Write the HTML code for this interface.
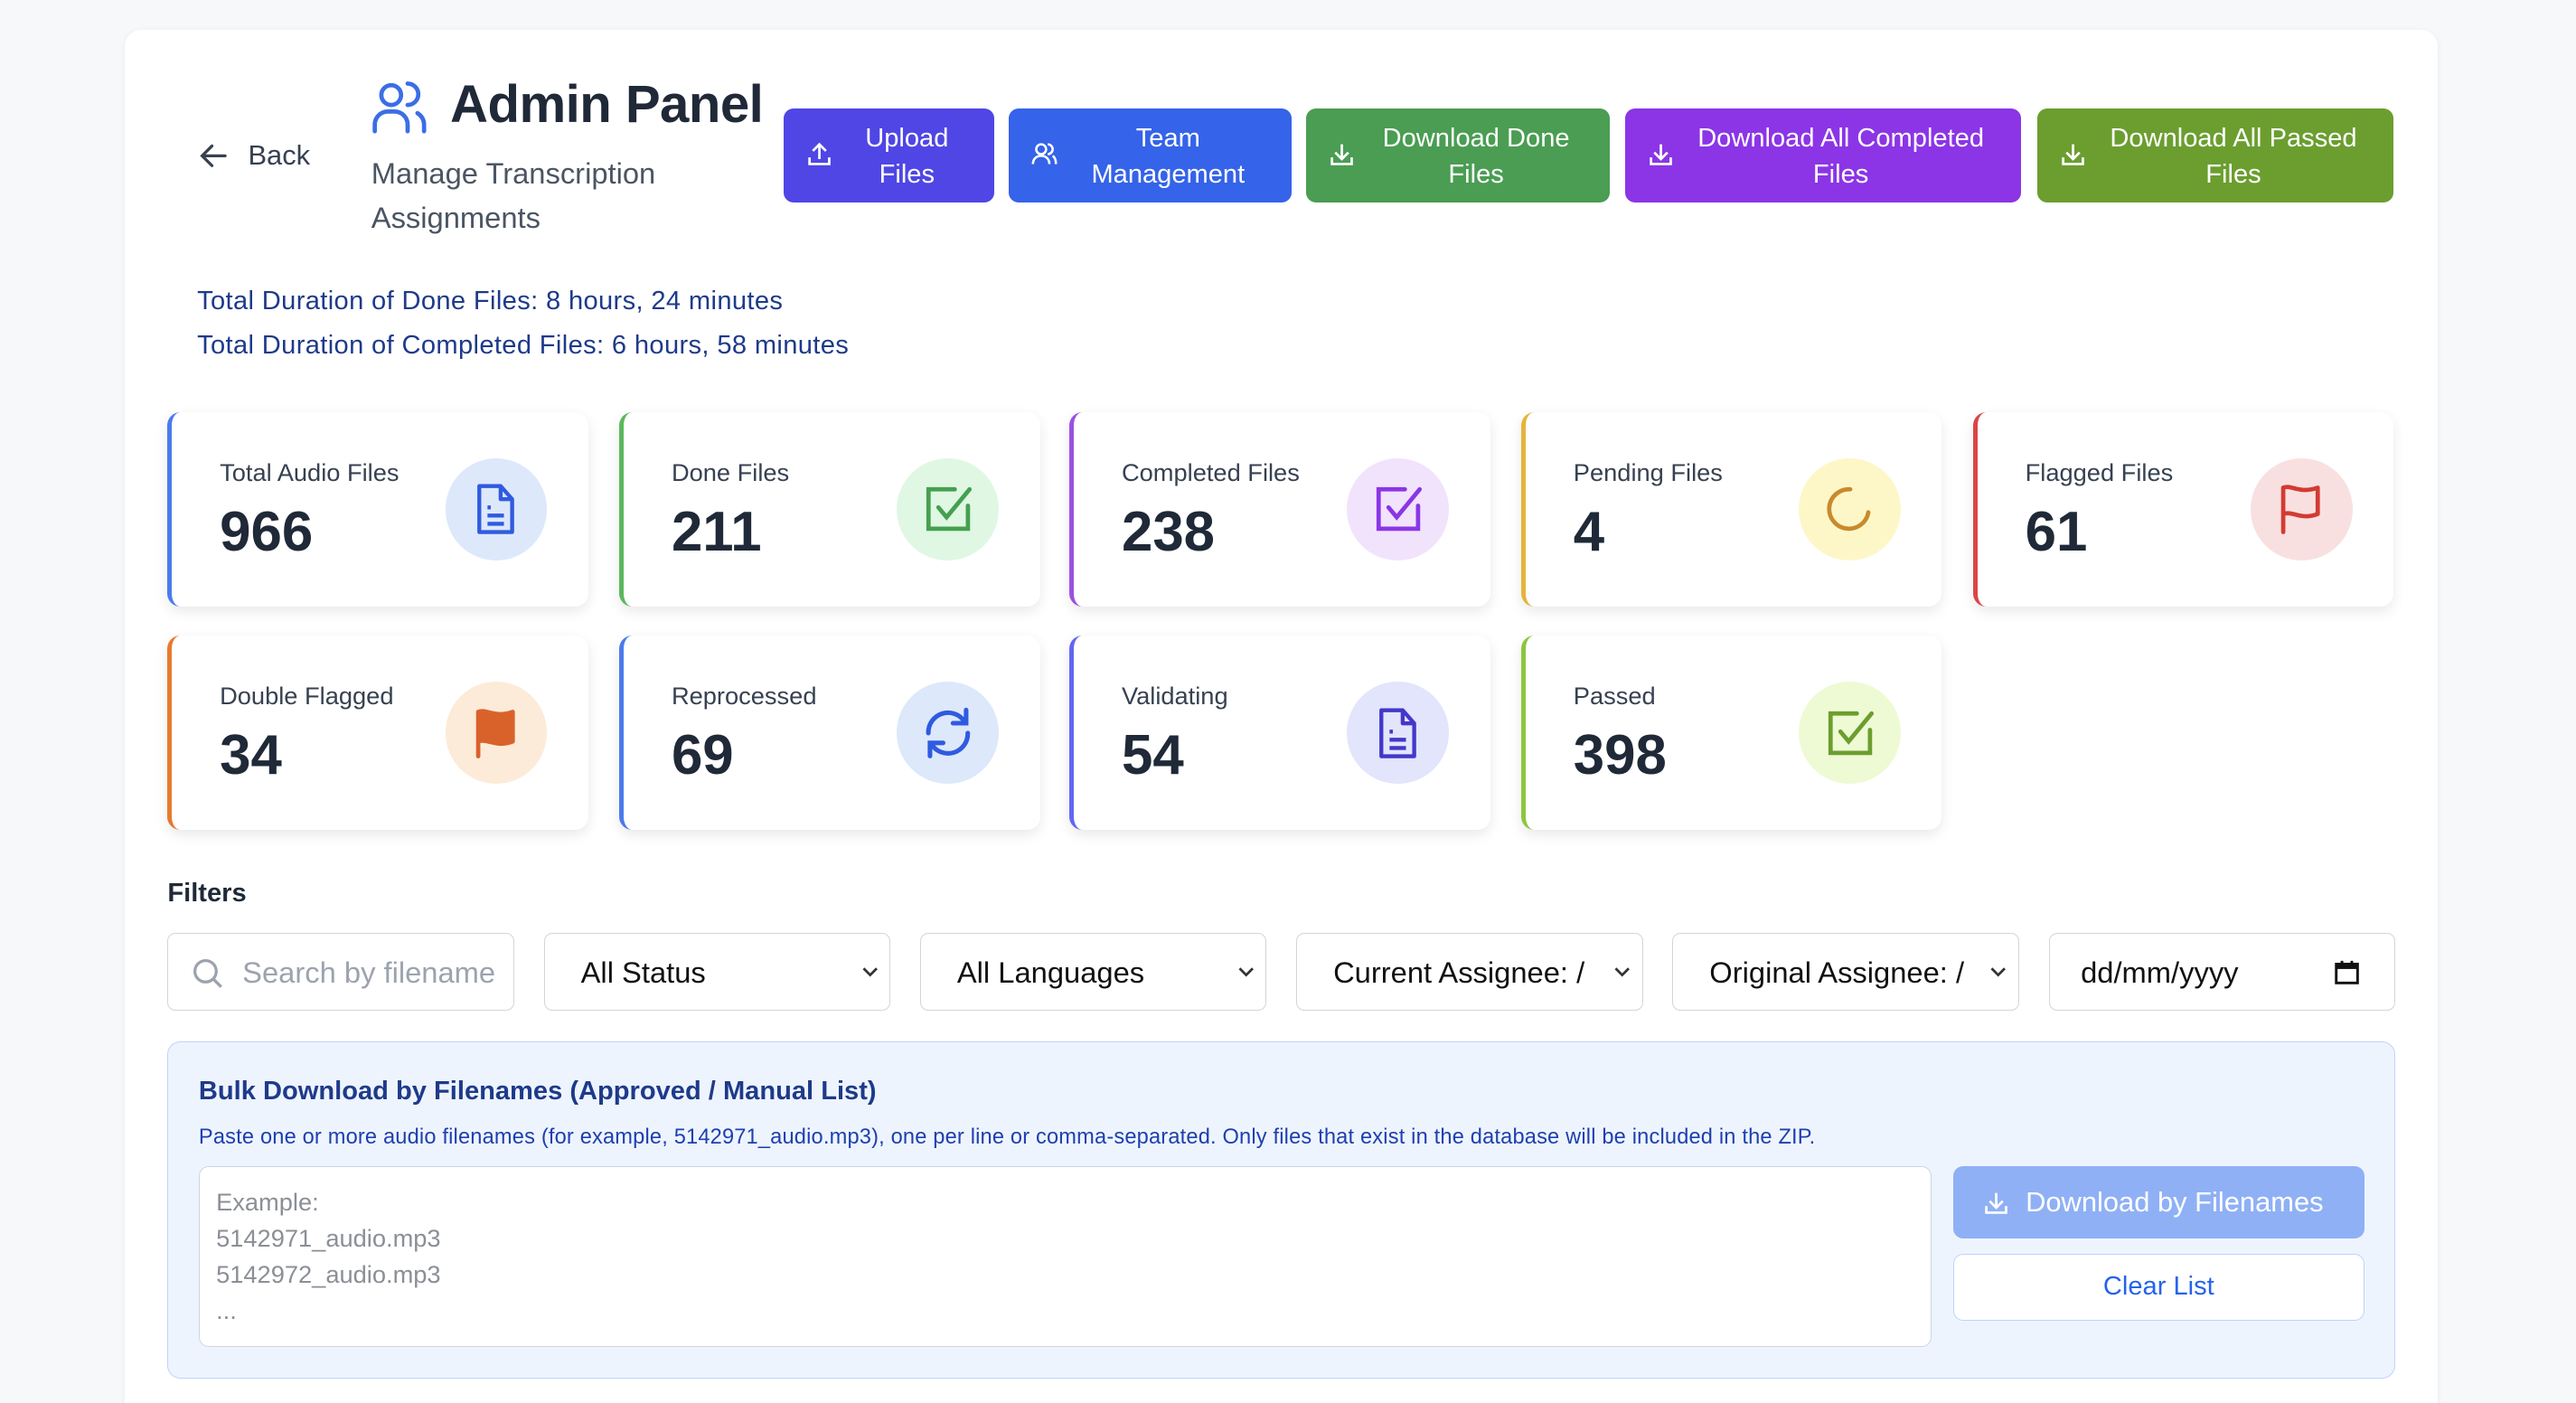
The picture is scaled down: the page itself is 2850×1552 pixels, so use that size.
<!DOCTYPE html>
<html><head><meta charset="utf-8">
<style>
*{box-sizing:border-box;margin:0;padding:0}
html,body{width:2850px;height:1552px;overflow:hidden;background:#f7f8fa}
#w{zoom:1.81760;width:1568px;height:854px;position:relative;font-family:"Liberation Sans",sans-serif;color:#1f2937}
.a{position:absolute}
.panel{left:76px;top:18px;width:1408px;height:860px;background:#fff;border-radius:10px;box-shadow:0 1px 4px rgba(0,0,0,.06)}
.btn{top:66px;height:57px;border-radius:6px;color:#fff;font-size:16px;line-height:22px;text-align:center;display:flex;align-items:center;justify-content:center}
.btn span{position:relative;top:1px}
.btn svg{position:absolute;left:14px;top:20px}
.card{width:256px;height:118px;background:#fff;border-radius:8px;box-shadow:0 3px 8px rgba(0,0,0,.09);border-left:3px solid}
.card .l{position:absolute;left:29px;top:28px;font-size:15px;color:#374151}
.card .n{position:absolute;left:29px;top:53px;font-size:34px;font-weight:bold;color:#1f2937}
.card .c{position:absolute;right:25px;top:28px;width:62px;height:62px;border-radius:50%;display:flex;align-items:center;justify-content:center}
.inp{top:568px;width:211px;height:47px;border:1px solid #d1d5db;border-radius:5px;font-size:18px;color:#111;padding-left:22px;line-height:47px;background:#fff}
.inp .ch{position:absolute;right:5px;top:17px;width:14px;height:12px;background:#fff}
</style></head><body><div id="w">
<div class="a panel"></div>
<svg class="a" style="left:121px;top:86px" width="18" height="18" viewBox="0 0 18 18"><path d="M16 9H3M8 3L2 9l6 6" stroke="#374151" stroke-width="1.8" fill="none" stroke-linecap="round"/></svg>
<div class="a" style="left:151px;top:85px;font-size:17px;color:#374151">Back</div>
<svg class="a" style="left:226px;top:48px" width="34" height="34" viewBox="0 0 34 34" fill="none" stroke="#3b6ee6" stroke-width="2.6" stroke-linecap="round"><circle cx="12" cy="10" r="6"/><path d="M2 32v-4a8 8 0 0 1 8-8h4a8 8 0 0 1 8 8v4"/><path d="M22 3a6 6 0 0 1 0 13M28 21a8 8 0 0 1 4 7v4"/></svg>
<div class="a" style="left:274px;top:45px;font-size:32px;font-weight:bold;color:#1f2937;letter-spacing:-0.3px">Admin Panel</div>
<div class="a" style="left:226px;top:92px;font-size:18px;line-height:27px;color:#4b5563">Manage Transcription<br>Assignments</div>

<div class="a btn" style="left:477px;width:128px;background:#4f46e5"><svg width="16" height="16" viewBox="0 0 16 16" fill="none" stroke="#fff" stroke-width="1.5"><path d="M2 10v4h12v-4M8 11V2M4 6l4-4 4 4"/></svg><span style="padding-left:22px">Upload<br>Files</span></div>
<div class="a btn" style="left:614px;width:172px;background:#3563e9"><svg width="16" height="16" viewBox="0 0 16 16" fill="none" stroke="#fff" stroke-width="1.4"><circle cx="6" cy="5" r="3"/><path d="M1 14c0-3 2-5 5-5s5 2 5 5M10 2a3 3 0 0 1 0 6M13 9c1.5 1 2 3 2 5"/></svg><span style="padding-left:22px">Team<br>Management</span></div>
<div class="a btn" style="left:795px;width:185px;background:#4a9d52"><svg width="16" height="16" viewBox="0 0 16 16" fill="none" stroke="#fff" stroke-width="1.5"><path d="M2 10v4h12v-4M8 2v9M4 7l4 4 4-4"/></svg><span style="padding-left:22px">Download Done<br>Files</span></div>
<div class="a btn" style="left:989px;width:241px;background:#8b35e6"><svg width="16" height="16" viewBox="0 0 16 16" fill="none" stroke="#fff" stroke-width="1.5"><path d="M2 10v4h12v-4M8 2v9M4 7l4 4 4-4"/></svg><span style="padding-left:22px">Download All Completed<br>Files</span></div>
<div class="a btn" style="left:1240px;width:217px;background:#6b9e2f"><svg width="16" height="16" viewBox="0 0 16 16" fill="none" stroke="#fff" stroke-width="1.5"><path d="M2 10v4h12v-4M8 2v9M4 7l4 4 4-4"/></svg><span style="padding-left:22px">Download All Passed<br>Files</span></div>

<div class="a" style="left:120px;top:170px;font-size:16px;line-height:27px;color:#1e3a8a;letter-spacing:0.2px">Total Duration of Done Files: 8 hours, 24 minutes<br>Total Duration of Completed Files: 6 hours, 58 minutes</div>

<div class="a card" style="left:102px;top:251px;border-color:#4b7bec"><div class="l">Total Audio Files</div><div class="n">966</div><div class="c" style="background:#dde8fb"><svg width="28" height="32" viewBox="0 0 28 32" fill="none" stroke="#2f5be0" stroke-width="2.4" stroke-linejoin="round"><path d="M4 2h13l7 8v20H4z"/><path d="M17 2v8h7M9 15h2M9 20h10M9 25h10"/></svg></div></div>
<div class="a card" style="left:377px;top:251px;border-color:#5cb85c"><div class="l">Done Files</div><div class="n">211</div><div class="c" style="background:#e0f7e4"><svg width="32" height="32" viewBox="0 0 32 32" fill="none" stroke="#44a04f" stroke-width="2.6" stroke-linecap="round"><path d="M20 4H4v24h24V14"/><path d="M10 15l5 6L29 4"/></svg></div></div>
<div class="a card" style="left:651px;top:251px;border-color:#9b51e0"><div class="l">Completed Files</div><div class="n">238</div><div class="c" style="background:#f1e3fc"><svg width="32" height="32" viewBox="0 0 32 32" fill="none" stroke="#8b35e6" stroke-width="2.6" stroke-linecap="round"><path d="M20 4H4v24h24V14"/><path d="M10 15l5 6L29 4"/></svg></div></div>
<div class="a card" style="left:926px;top:251px;border-color:#e6b43c"><div class="l">Pending Files</div><div class="n">4</div><div class="c" style="background:#fdf7c8"><svg width="32" height="32" viewBox="0 0 32 32" fill="none" stroke="#c98a2c" stroke-width="2.6" stroke-linecap="round"><path d="M27 18A12 12 0 1 1 16 4"/></svg></div></div>
<div class="a card" style="left:1201px;top:251px;border-color:#dc4444"><div class="l">Flagged Files</div><div class="n">61</div><div class="c" style="background:#f9e0e0"><svg width="32" height="32" viewBox="0 0 32 32" fill="none" stroke="#d23b32" stroke-width="2.6" stroke-linejoin="round" stroke-linecap="round"><path d="M5 30V3c5-2 10 4 21 0v16c-10 4-15-2-21 0"/></svg></div></div>

<div class="a card" style="left:102px;top:387px;border-color:#e8792f"><div class="l">Double Flagged</div><div class="n">34</div><div class="c" style="background:#fcebd8"><svg width="32" height="32" viewBox="0 0 32 32"><path d="M5 30V3c5-2 10 4 21 0v18c-10 4-15-2-21 0" fill="#d9622b" stroke="#d9622b" stroke-width="2.6" stroke-linejoin="round" stroke-linecap="round"/></svg></div></div>
<div class="a card" style="left:377px;top:387px;border-color:#4b7bec"><div class="l">Reprocessed</div><div class="n">69</div><div class="c" style="background:#dde8fb"><svg width="34" height="34" viewBox="0 0 34 34" fill="none" stroke="#2f5be0" stroke-width="2.8" stroke-linecap="round"><path d="M5 17A12 12 0 0 1 27 10M29 17A12 12 0 0 1 7 24"/><path d="M28 3v8h-8M6 31v-8h8"/></svg></div></div>
<div class="a card" style="left:651px;top:387px;border-color:#6366f1"><div class="l">Validating</div><div class="n">54</div><div class="c" style="background:#e2e5fb"><svg width="28" height="32" viewBox="0 0 28 32" fill="none" stroke="#4338ca" stroke-width="2.4" stroke-linejoin="round"><path d="M4 2h13l7 8v20H4z"/><path d="M17 2v8h7M9 15h2M9 20h10M9 25h10"/></svg></div></div>
<div class="a card" style="left:926px;top:387px;border-color:#8cc63f"><div class="l">Passed</div><div class="n">398</div><div class="c" style="background:#eefad4"><svg width="32" height="32" viewBox="0 0 32 32" fill="none" stroke="#6b9e2f" stroke-width="2.6" stroke-linecap="round"><path d="M20 4H4v24h24V14"/><path d="M10 15l5 6L29 4"/></svg></div></div>

<div class="a" style="left:102px;top:535px;font-size:16px;font-weight:bold;color:#1f2937">Filters</div>
<div class="a inp" style="left:102px;padding-left:45px;color:#9ca3af;overflow:hidden;white-space:nowrap"><svg class="a" style="left:14px;top:14px" width="20" height="20" viewBox="0 0 20 20" fill="none" stroke="#9ca3af" stroke-width="1.8"><circle cx="8.5" cy="8.5" r="6.5"/><path d="M13.5 13.5L18 18"/></svg>Search by filename</div>
<div class="a inp" style="left:331px">All Status<svg class="ch" viewBox="0 0 14 12"><path d="M3 4l4 4 4-4" fill="none" stroke="#333" stroke-width="1.5"/></svg></div>
<div class="a inp" style="left:560px">All Languages<svg class="ch" viewBox="0 0 14 12"><path d="M3 4l4 4 4-4" fill="none" stroke="#333" stroke-width="1.5"/></svg></div>
<div class="a inp" style="left:789px;overflow:hidden;white-space:nowrap">Current Assignee: /<svg class="ch" viewBox="0 0 14 12"><path d="M3 4l4 4 4-4" fill="none" stroke="#333" stroke-width="1.5"/></svg></div>
<div class="a inp" style="left:1018px;overflow:hidden;white-space:nowrap">Original Assignee: /<svg class="ch" viewBox="0 0 14 12"><path d="M3 4l4 4 4-4" fill="none" stroke="#333" stroke-width="1.5"/></svg></div>
<div class="a inp" style="left:1247px;padding-left:19px">dd/mm/yyyy<svg class="a" style="left:173px;top:15px" width="16" height="16" viewBox="0 0 16 16"><rect x="1.5" y="3" width="13" height="11.5" fill="none" stroke="#111" stroke-width="1.6"/><rect x="1.5" y="3" width="13" height="3" fill="#111"/><path d="M5 1v3M11 1v3" stroke="#111" stroke-width="1.6"/></svg></div>

<div class="a" style="left:102px;top:634px;width:1356px;height:205px;background:#eef4fe;border:1px solid #bfd3f8;border-radius:8px"></div>
<div class="a" style="left:121px;top:655px;font-size:16px;font-weight:bold;color:#1e3a8a">Bulk Download by Filenames (Approved / Manual List)</div>
<div class="a" style="left:121px;top:685px;font-size:13px;color:#1e40af;letter-spacing:0.1px">Paste one or more audio filenames (for example, 5142971_audio.mp3), one per line or comma-separated. Only files that exist in the database will be included in the ZIP.</div>
<div class="a" style="left:121px;top:710px;width:1055px;height:110px;background:#fff;border:1px solid #cbd5e1;border-radius:6px;padding:10px 10px;font-size:15px;line-height:22px;color:#8b8f96">Example:<br>5142971_audio.mp3<br>5142972_audio.mp3<br>...</div>
<div class="a" style="left:1189px;top:710px;width:250px;height:44px;background:#8fb0f5;border-radius:6px;color:#fff;font-size:17px;line-height:44px;padding-left:44px"><svg class="a" style="left:18px;top:14px" width="16" height="16" viewBox="0 0 16 16" fill="none" stroke="#fff" stroke-width="1.5"><path d="M2 10v4h12v-4M8 2v9M4 7l4 4 4-4"/></svg>Download by Filenames</div>
<div class="a" style="left:1189px;top:763px;width:250px;height:41px;background:#fff;border:1px solid #bfd3f8;border-radius:6px;color:#2563eb;font-size:16px;line-height:39px;text-align:center">Clear List</div>
</div></body></html>
